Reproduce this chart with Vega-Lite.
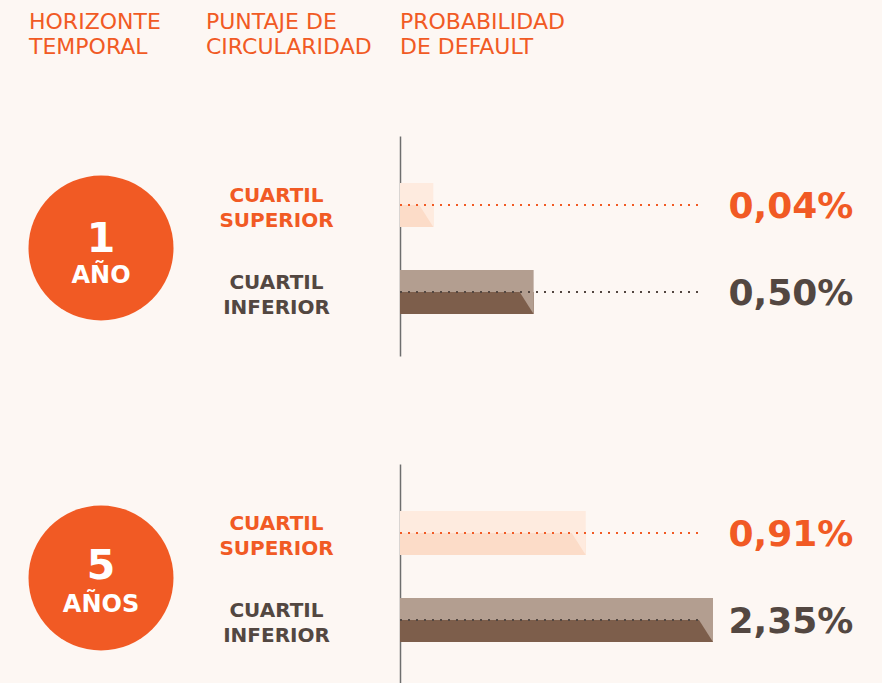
{
  "$schema": "https://vega.github.io/schema/vega-lite/v6.json",
  "background": "#FDF7F3",
  "padding": {"left": 28, "top": 11, "right": 0, "bottom": 0},
  "spacing": 108,
  "config": {
    "font": "DejaVu Sans",
    "view": {"stroke": null},
    "locale": {"number": {"decimal": ",", "thousands": ".", "grouping": [3], "currency": ["", " €"]}},
    "title": {"anchor": "start", "frame": "group", "fontSize": 22, "fontWeight": "normal", "color": "#F15A24", "lineHeight": 25, "offset": 77}
  },
  "data": {
    "values": [
      {"horizonte": "1 AÑO", "num": "1", "unidad": "AÑO", "cuartil": "SUPERIOR", "etiqueta": "CUARTIL SUPERIOR", "prob": 0.0004},
      {"horizonte": "1 AÑO", "num": "1", "unidad": "AÑO", "cuartil": "INFERIOR", "etiqueta": "CUARTIL INFERIOR", "prob": 0.005},
      {"horizonte": "5 AÑOS", "num": "5", "unidad": "AÑOS", "cuartil": "SUPERIOR", "etiqueta": "CUARTIL SUPERIOR", "prob": 0.0091},
      {"horizonte": "5 AÑOS", "num": "5", "unidad": "AÑOS", "cuartil": "INFERIOR", "etiqueta": "CUARTIL INFERIOR", "prob": 0.0235}
    ]
  },
  "vconcat": [
    {
      "bounds": "flush",
      "spacing": 33,
      "hconcat": [
        {
          "title": ["HORIZONTE", "TEMPORAL"],
          "transform": [{"filter": "datum.horizonte === '1 AÑO' && datum.cuartil === 'SUPERIOR'"}],
          "width": 144, "height": 220,
          "layer": [
            {"mark": {"type": "point", "shape": "circle", "filled": true, "size": 21025, "opacity": 1, "color": "#F15A24", "strokeWidth": 0, "yOffset": 2}, "encoding": {}},
            {"mark": {"type": "text", "fontSize": 41, "fontWeight": "bold", "color": "#FFFFFF", "baseline": "alphabetic", "align": "center", "dy": 6}, "encoding": {"text": {"field": "num"}}},
            {"mark": {"type": "text", "fontSize": 24, "fontWeight": "bold", "color": "#FFFFFF", "baseline": "alphabetic", "align": "center", "dy": 37}, "encoding": {"text": {"field": "unidad"}}}
          ]
        },
        {
          "title": ["PUNTAJE DE", "CIRCULARIDAD"],
          "transform": [{"filter": "datum.horizonte === '1 AÑO'"}],
          "width": 161, "height": 220,
          "mark": {"type": "text", "fontSize": 20, "fontWeight": "bold", "lineBreak": " ", "lineHeight": 25, "align": "center", "baseline": "middle", "dy": -9, "dx": -10},
          "encoding": {
            "y": {"field": "cuartil", "type": "nominal", "axis": null, "scale": {"type": "band", "domain": ["SUPERIOR", "INFERIOR"], "paddingInner": 0.494, "paddingOuter": 0.5115, "align": 0.528}},
            "text": {"field": "etiqueta"},
            "color": {"condition": {"test": "datum.cuartil === 'SUPERIOR'", "value": "#F15A24"}, "value": "#534741"}
          }
        },
        {
          "title": ["PROBABILIDAD", "DE DEFAULT"],
          "transform": [{"filter": "datum.horizonte === '1 AÑO'"}],
          "width": 302, "height": 220,
          "encoding": {
            "y": {"field": "cuartil", "type": "nominal", "scale": {"type": "band", "domain": ["SUPERIOR", "INFERIOR"], "paddingInner": 0.494, "paddingOuter": 0.5115, "align": 0.528}, "axis": {"labels": false, "ticks": false, "title": null, "grid": false, "domain": true, "domainColor": "#6E6E6E", "domainWidth": 1.5}}
          },
          "layer": [
            {
              "mark": {"type": "bar", "opacity": 1},
              "encoding": {
                "x": {"field": "prob", "type": "quantitative", "axis": null, "scale": {"type": "pow", "exponent": 0.55, "domain": [0, 0.02202], "nice": false}},
                "fill": {"condition": {"test": "datum.cuartil === 'SUPERIOR'", "value": "#FEEBDF"}, "value": "#B39E90"}
              }
            },
            {
              "mark": {"type": "bar", "opacity": 1, "height": {"band": 0.5}, "yOffset": 11},
              "encoding": {
                "x": {"field": "prob", "type": "quantitative"},
                "fill": {"condition": {"test": "datum.cuartil === 'SUPERIOR'", "value": "#FCDCC8"}, "value": "#7D5E4B"}
              }
            },
            {
              "mark": {"type": "point", "shape": "M -1.273 0 L 0 0 L 0 2 Z", "size": 484, "filled": true, "opacity": 1, "strokeWidth": 0},
              "encoding": {
                "x": {"field": "prob", "type": "quantitative"},
                "fill": {"condition": {"test": "datum.cuartil === 'SUPERIOR'", "value": "#FEEBDF"}, "value": "#B39E90"}
              }
            },
            {
              "mark": {"type": "rule", "strokeDash": [2, 6], "strokeWidth": 2},
              "encoding": {
                "x": {"datum": 0},
                "x2": {"value": "width"},
                "color": {"condition": {"test": "datum.cuartil === 'SUPERIOR'", "value": "#F15A24"}, "value": "#534741"}
              }
            }
          ]
        },
        {
          "transform": [{"filter": "datum.horizonte === '1 AÑO'"}],
          "width": 148, "height": 220,
          "mark": {"type": "text", "fontSize": 36, "fontWeight": "bold", "align": "center", "baseline": "alphabetic", "dy": 13, "dx": -18},
          "encoding": {
            "y": {"field": "cuartil", "type": "nominal", "axis": null, "scale": {"type": "band", "domain": ["SUPERIOR", "INFERIOR"], "paddingInner": 0.494, "paddingOuter": 0.5115, "align": 0.528}},
            "text": {"field": "prob", "type": "quantitative", "format": ".2%"},
            "color": {"condition": {"test": "datum.cuartil === 'SUPERIOR'", "value": "#F15A24"}, "value": "#534741"}
          }
        }
      ]
    },
    {
      "bounds": "flush",
      "spacing": 33,
      "hconcat": [
        {
          "transform": [{"filter": "datum.horizonte === '5 AÑOS' && datum.cuartil === 'SUPERIOR'"}],
          "width": 144, "height": 220,
          "layer": [
            {"mark": {"type": "point", "shape": "circle", "filled": true, "size": 21025, "opacity": 1, "color": "#F15A24", "strokeWidth": 0, "yOffset": 4}, "encoding": {}},
            {"mark": {"type": "text", "fontSize": 41, "fontWeight": "bold", "color": "#FFFFFF", "baseline": "alphabetic", "align": "center", "dy": 5}, "encoding": {"text": {"field": "num"}}},
            {"mark": {"type": "text", "fontSize": 24, "fontWeight": "bold", "color": "#FFFFFF", "baseline": "alphabetic", "align": "center", "dy": 38}, "encoding": {"text": {"field": "unidad"}}}
          ]
        },
        {
          "transform": [{"filter": "datum.horizonte === '5 AÑOS'"}],
          "width": 161, "height": 220,
          "mark": {"type": "text", "fontSize": 20, "fontWeight": "bold", "lineBreak": " ", "lineHeight": 25, "align": "center", "baseline": "middle", "dy": -9, "dx": -10},
          "encoding": {
            "y": {"field": "cuartil", "type": "nominal", "axis": null, "scale": {"type": "band", "domain": ["SUPERIOR", "INFERIOR"], "paddingInner": 0.494, "paddingOuter": 0.5115, "align": 0.528}},
            "text": {"field": "etiqueta"},
            "color": {"condition": {"test": "datum.cuartil === 'SUPERIOR'", "value": "#F15A24"}, "value": "#534741"}
          }
        },
        {
          "transform": [{"filter": "datum.horizonte === '5 AÑOS'"}],
          "width": 302, "height": 220,
          "encoding": {
            "y": {"field": "cuartil", "type": "nominal", "scale": {"type": "band", "domain": ["SUPERIOR", "INFERIOR"], "paddingInner": 0.494, "paddingOuter": 0.5115, "align": 0.528}, "axis": {"labels": false, "ticks": false, "title": null, "grid": false, "domain": true, "domainColor": "#6E6E6E", "domainWidth": 1.5}}
          },
          "layer": [
            {
              "mark": {"type": "bar", "opacity": 1},
              "encoding": {
                "x": {"field": "prob", "type": "quantitative", "axis": null, "scale": {"type": "pow", "exponent": 0.55, "domain": [0, 0.02202], "nice": false}},
                "fill": {"condition": {"test": "datum.cuartil === 'SUPERIOR'", "value": "#FEEBDF"}, "value": "#B39E90"}
              }
            },
            {
              "mark": {"type": "bar", "opacity": 1, "height": {"band": 0.5}, "yOffset": 11},
              "encoding": {
                "x": {"field": "prob", "type": "quantitative"},
                "fill": {"condition": {"test": "datum.cuartil === 'SUPERIOR'", "value": "#FCDCC8"}, "value": "#7D5E4B"}
              }
            },
            {
              "mark": {"type": "point", "shape": "M -1.273 0 L 0 0 L 0 2 Z", "size": 484, "filled": true, "opacity": 1, "strokeWidth": 0},
              "encoding": {
                "x": {"field": "prob", "type": "quantitative"},
                "fill": {"condition": {"test": "datum.cuartil === 'SUPERIOR'", "value": "#FEEBDF"}, "value": "#B39E90"}
              }
            },
            {
              "mark": {"type": "rule", "strokeDash": [2, 6], "strokeWidth": 2},
              "encoding": {
                "x": {"datum": 0},
                "x2": {"value": "width"},
                "color": {"condition": {"test": "datum.cuartil === 'SUPERIOR'", "value": "#F15A24"}, "value": "#534741"}
              }
            }
          ]
        },
        {
          "transform": [{"filter": "datum.horizonte === '5 AÑOS'"}],
          "width": 148, "height": 220,
          "mark": {"type": "text", "fontSize": 36, "fontWeight": "bold", "align": "center", "baseline": "alphabetic", "dy": 13, "dx": -18},
          "encoding": {
            "y": {"field": "cuartil", "type": "nominal", "axis": null, "scale": {"type": "band", "domain": ["SUPERIOR", "INFERIOR"], "paddingInner": 0.494, "paddingOuter": 0.5115, "align": 0.528}},
            "text": {"field": "prob", "type": "quantitative", "format": ".2%"},
            "color": {"condition": {"test": "datum.cuartil === 'SUPERIOR'", "value": "#F15A24"}, "value": "#534741"}
          }
        }
      ]
    }
  ]
}
